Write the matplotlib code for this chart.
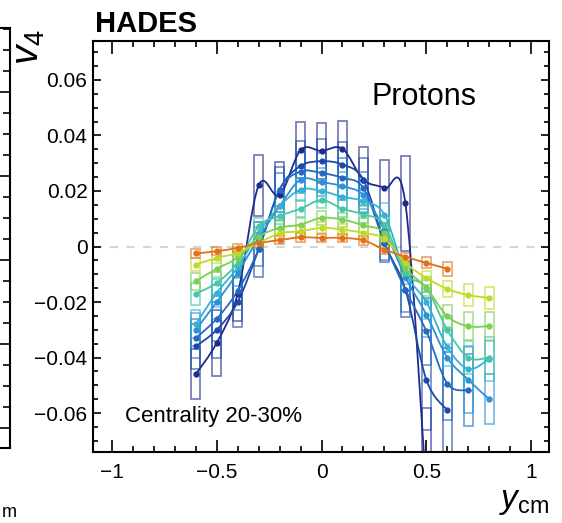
import numpy as np
import matplotlib
matplotlib.use('Agg')
import matplotlib.pyplot as plt
from matplotlib.path import Path
from matplotlib.patches import PathPatch, Rectangle
from matplotlib.ticker import MultipleLocator, FixedLocator, FuncFormatter

plt.rcParams['font.family'] = ['Liberation Sans', 'DejaVu Sans']
plt.rcParams['mathtext.fontset'] = 'custom'
plt.rcParams['mathtext.rm'] = 'Liberation Sans'
plt.rcParams['mathtext.it'] = 'Liberation Sans:italic'

# rapidity bins
rap = [-0.6, -0.5, -0.4, -0.3, -0.2, -0.1, 0.0, 0.1, 0.2, 0.3, 0.4, 0.5, 0.6, 0.7, 0.8]
nan = np.nan

# v4 per pT bin (high pT -> low pT)
v4_s1 = [-0.046, -0.0347, -0.017, 0.022, 0.0184, 0.0347, 0.0344, 0.0352, 0.024, 0.021, 0.0155, -0.088, nan, nan, nan]
v4_s2 = [-0.036, -0.030, -0.020, -0.001, 0.0205, 0.029, 0.0307, 0.0295, 0.024, 0.0013, -0.0155, -0.048, -0.059, nan, nan]
v4_s3 = [-0.033, -0.026, -0.016, -0.001, 0.0205, 0.027, 0.0265, 0.0247, 0.021, 0.0013, -0.0155, -0.0305, -0.0494, -0.0518, nan]
v4_s4 = [-0.030, -0.020, -0.0094, 0.003, 0.0145, 0.0241, 0.0232, 0.0217, 0.0185, 0.006, -0.011, -0.0245, -0.040, -0.048, -0.055]
v4_s5 = [-0.028, -0.0167, -0.0075, 0.005, 0.0145, 0.0205, 0.020, 0.0179, 0.0163, 0.0115, -0.0095, -0.020, -0.0362, -0.0441, -0.0405]
v4_s6 = [-0.017, -0.0131, -0.0058, 0.0073, 0.011, 0.0136, 0.0167, 0.0136, 0.0115, 0.0079, -0.0095, -0.0149, -0.030, -0.040, -0.040]
v4_s7 = [-0.0125, -0.008, -0.004, 0.0035, 0.0067, 0.0079, 0.0103, 0.0097, 0.0076, 0.0049, -0.0077, -0.0149, -0.0251, -0.0287, -0.0287]
v4_s8 = [-0.0065, -0.0041, -0.0023, 0.0013, 0.0047, 0.0055, 0.0067, 0.0061, 0.0049, 0.0028, -0.0059, -0.0113, -0.0153, -0.0175, -0.0185]
v4_s9 = [-0.0025, -0.0017, -0.0005, 0.0012, 0.0023, 0.0033, 0.0031, 0.0031, 0.0022, -0.0011, -0.0037, -0.0059, -0.008, nan, nan]

# systematic uncertainty (half height of the boxes)
sys_s1 = [0.009, 0.012, 0.010, 0.011, 0.012, 0.010, 0.010, 0.010, 0.012, 0.010, 0.017, 0.030, nan, nan, nan]
sys_s2 = [0.008, 0.010, 0.009, 0.010, 0.008, 0.009, 0.008, 0.008, 0.008, 0.007, 0.010, 0.018, 0.021, nan, nan]
sys_s3 = [0.007, 0.008, 0.007, 0.006, 0.006, 0.007, 0.007, 0.007, 0.006, 0.006, 0.008, 0.012, 0.013, 0.013, nan]
sys_s4 = [0.006, 0.006, 0.005, 0.004, 0.005, 0.005, 0.005, 0.005, 0.005, 0.005, 0.005, 0.008, 0.010, 0.012, 0.009]
sys_s5 = [0.005, 0.005, 0.004, 0.004, 0.004, 0.004, 0.004, 0.004, 0.004, 0.004, 0.004, 0.006, 0.007, 0.008, 0.008]
sys_s6 = [0.004, 0.004, 0.003, 0.003, 0.003, 0.003, 0.003, 0.003, 0.003, 0.003, 0.003, 0.004, 0.005, 0.006, 0.006]
sys_s7 = [0.003, 0.003, 0.0025, 0.0025, 0.0025, 0.0025, 0.0025, 0.0025, 0.0025, 0.0025, 0.0025, 0.003, 0.004, 0.005, 0.005]
sys_s8 = [0.0022, 0.002, 0.002, 0.002, 0.002, 0.002, 0.002, 0.002, 0.002, 0.002, 0.002, 0.0025, 0.003, 0.004, 0.004]
sys_s9 = [0.0016, 0.0015, 0.0015, 0.0015, 0.0015, 0.0015, 0.0015, 0.0015, 0.0015, 0.0015, 0.0015, 0.002, 0.0025, nan, nan]

colors = ['#1f2b8c', '#1f48a6', '#2468c0', '#2b90d4', '#36b2d6',
          '#48c6a6', '#7ccf52', '#c4d82a', '#e0701a']

series = [v4_s1, v4_s2, v4_s3, v4_s4, v4_s5, v4_s6, v4_s7, v4_s8, v4_s9]
systs = [sys_s1, sys_s2, sys_s3, sys_s4, sys_s5, sys_s6, sys_s7, sys_s8, sys_s9]

xticks = [-1, -0.5, 0, 0.5, 1]
yticks = [-0.06, -0.04, -0.02, 0, 0.02, 0.04, 0.06]


def smooth_path(xs, ys):
    pts = np.column_stack([xs, ys])
    n = len(pts)
    verts = [pts[0]]
    codes = [Path.MOVETO]
    for i in range(n - 1):
        p0 = pts[i - 1] if i > 0 else pts[i]
        p1 = pts[i]
        p2 = pts[i + 1]
        p3 = pts[i + 2] if i + 2 < n else pts[i + 1]
        verts += [p1 + (p2 - p0) / 6, p2 - (p3 - p1) / 6, p2]
        codes += [Path.CURVE4] * 3
    return Path(verts, codes)


fig = plt.figure(figsize=(5.62, 5.23), dpi=100)

# sliver of the neighbouring panel
ax0 = fig.add_axes([-0.3, 1 - 448 / 523, 0.3 + 10 / 562, 420 / 523])
ax0.set_xlim(0, 1)
ax0.set_ylim(0, 420)
ax0.spines['left'].set_visible(False)
for s in ['right', 'top', 'bottom']:
    ax0.spines[s].set_linewidth(1.5)
ax0.yaxis.set_major_locator(FixedLocator(np.arange(20, 420, 84)))
ax0.yaxis.set_minor_locator(FixedLocator(np.arange(20, 420, 21)))
ax0.tick_params(axis='y', which='both', direction='in', left=False, right=True,
                labelleft=False, labelright=False, width=1.2)
ax0.tick_params(axis='y', which='major', length=7)
ax0.tick_params(axis='y', which='minor', length=5)
ax0.set_xticks([])
fig.text(2 / 562, 1 - 517 / 523, 'm', fontsize=13, ha='left', va='baseline')

# main panel
ax = fig.add_axes([93 / 562, 1 - 452 / 523, (549 - 93) / 562, (452 - 41) / 523])
ax.set_xlim(-1.09, 1.085)
ax.set_ylim(-0.074, 0.074)

ax.axhline(0, color='#d6d6d6', lw=1.5, dashes=(4, 4), zorder=0)

hw = 0.021
for vals, sy, col in zip(series, systs, colors):
    x = np.array(rap)
    y = np.array(vals, dtype=float)
    e = np.array(sy, dtype=float)
    ok = ~np.isnan(y)
    x, y, e = x[ok], y[ok], e[ok]
    for xi, yi, ei in zip(x, y, e):
        ax.add_patch(Rectangle((xi - hw, yi - ei), 2 * hw, 2 * ei, fill=False,
                               ec=col, lw=1.2, alpha=0.65, zorder=2))
    ax.add_patch(PathPatch(smooth_path(x, y), fc='none', ec=col, lw=1.3, zorder=3))
    ax.plot(x, y, 'o', color=col, ms=3.5, mec=col, zorder=4)

for s in ax.spines.values():
    s.set_linewidth(1.5)

ax.set_xticks(xticks)
ax.set_yticks(yticks)
ax.xaxis.set_minor_locator(MultipleLocator(0.1))
ax.yaxis.set_minor_locator(MultipleLocator(0.005))
fmt = FuncFormatter(lambda v, p: ('%g' % v).replace('-', '\u2212'))
ax.xaxis.set_major_formatter(fmt)
ax.yaxis.set_major_formatter(fmt)
ax.tick_params(which='both', direction='in', top=True, right=True, width=1.2,
               labelsize=15)
ax.tick_params(axis='x', which='major', length=9, pad=8)
ax.tick_params(axis='x', which='minor', length=4.5)
ax.tick_params(axis='y', which='major', length=6, pad=4)
ax.tick_params(axis='y', which='minor', length=3.5)

fig.text(95 / 562, 1 - 32 / 523, 'HADES', fontsize=21, fontweight='bold',
         ha='left', va='baseline')
fig.text(372 / 562, 1 - 105 / 523, 'Protons', fontsize=22, ha='left',
         va='baseline')
fig.text(125 / 562, 1 - 422 / 523, 'Centrality 20-30%', fontsize=16,
         ha='left', va='baseline')
fig.text(29 / 562, 1 - 29 / 523, r'$v_4$', fontsize=28, rotation=90,
         ha='center', va='top')
fig.text(549 / 562, 1 - 486 / 523, r'$y_{\mathrm{cm}}$', fontsize=24,
         ha='right', va='top')

fig.savefig('out.png', dpi=100)
